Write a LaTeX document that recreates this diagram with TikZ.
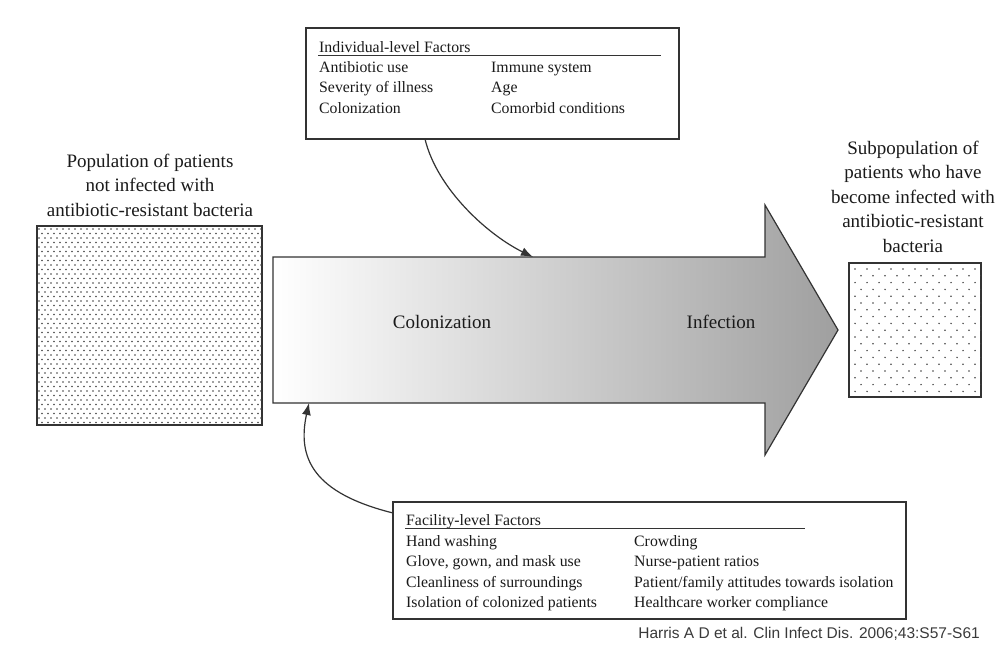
\documentclass[tikz,border=0pt]{standalone}
\usepackage{fontspec}
\setmainfont{Liberation Serif}
\newfontfamily\citefont{Liberation Sans}
\usetikzlibrary{arrows.meta}
\definecolor{linec}{HTML}{333333}
\definecolor{dotc}{HTML}{444444}
\definecolor{citec}{HTML}{3A3A3A}
\definecolor{textc}{HTML}{1A1A1A}
\begin{document}
\begin{tikzpicture}[x=1pt,y=-1pt,
  framebox/.style={draw=linec, line width=1.2pt, inner sep=0pt, outer sep=0pt, anchor=north west},
  boxtext/.style={anchor=base west, inner sep=0pt, text=textc, font=\fontsize{15.8}{19}\selectfont},
  labeltext/.style={align=center, inner sep=0pt, text=textc, font=\fontsize{19}{24.5}\selectfont},
  conn/.style={draw=linec, line width=1.2pt, -{Latex[length=12pt,width=9pt]}},
  ulinec/.style={draw=linec, line width=0.9pt}
]
\fill[white] (0,0) rectangle (1005,653);
\useasboundingbox (0,0) rectangle (1005,653);

% big arrow
\shadedraw[left color=white, right color=gray!75, draw=linec, line width=1.2pt]
  (273,257) -- (765,257) -- (765,205) -- (838,330) -- (765,455) -- (765,403) -- (273,403) -- cycle;
\coordinate (arrowtop) at (533,257);
\coordinate (arrowbot) at (309,403);
\node[labeltext] (colon) at (442,322) {Colonization};
\node[labeltext] (infect) at (721,322) {Infection};

% left population box
\node[framebox, line width=1.6pt, minimum width=225pt, minimum height=199pt] (pop) at (37,226) {};
\begin{scope}
  \clip (pop.south west) rectangle (pop.north east);
  \foreach \j in {0,...,44}{
    \pgfmathsetmacro\off{mod(\j,2)*3}
    \foreach \i in {0,...,37}{
      \fill[dotc] (39+\off+6*\i, 229+4.5*\j) circle (0.85pt);
    }
  }
\end{scope}
\node[labeltext] (poplabel) at (150,185) {Population of patients\\not infected with\\antibiotic-resistant bacteria};

% right subpopulation box
\node[framebox, line width=1.6pt, minimum width=132pt, minimum height=134pt] (sub) at (849,263) {};
\begin{scope}
  \clip (sub.south west) rectangle (sub.north east);
  \foreach \j in {0,...,19}{
    \pgfmathsetmacro\off{mod(\j,2)*6}
    \foreach \i in {0,...,11}{
      \fill[dotc] (855+\off+12*\i, 269+6.8*\j) circle (0.85pt);
    }
  }
\end{scope}
\node[labeltext] (sublabel) at (913,196.5) {Subpopulation of\\patients who have\\become infected with\\antibiotic-resistant\\bacteria};

% individual-level factors
\node[framebox, minimum width=373pt, minimum height=111pt] (indiv) at (306,28) {};
\node[boxtext] (ih) at (319,52) {Individual-level Factors};
\draw[ulinec] (318,55.5) -- (661,55.5);
\node[boxtext] (i1) at (319,72) {Antibiotic use};
\node[boxtext] (i2) at (319,92.5) {Severity of illness};
\node[boxtext] (i3) at (319,113) {Colonization};
\node[boxtext] (i4) at (491,72) {Immune system};
\node[boxtext] (i5) at (491,92.5) {Age};
\node[boxtext] (i6) at (491,113) {Comorbid conditions};

% facility-level factors
\node[framebox, minimum width=513pt, minimum height=117pt] (fac) at (393,502) {};
\node[boxtext] (fh) at (406,525) {Facility-level Factors};
\draw[ulinec] (405,528.5) -- (805,528.5);
\node[boxtext] (f1) at (406,546) {Hand washing};
\node[boxtext] (f2) at (406,566.5) {Glove, gown, and mask use};
\node[boxtext] (f3) at (406,587) {Cleanliness of surroundings};
\node[boxtext] (f4) at (406,607.5) {Isolation of colonized patients};
\node[boxtext] (f5) at (634,546) {Crowding};
\node[boxtext] (f6) at (634,566.5) {Nurse-patient ratios};
\node[boxtext] (f7) at (634,587) {Patient/family attitudes towards isolation};
\node[boxtext] (f8) at (634,607.5) {Healthcare worker compliance};

% connectors
\draw[conn] ([xshift=119pt]indiv.south west) .. controls +(12,50) and +(-45,-22) .. (arrowtop);
\draw[conn] ([yshift=-11pt]fac.north west) .. controls +(-80,-20) and +(-12,55) .. (arrowbot);

% citation
\node[anchor=base east, inner sep=0pt, text=citec, font=\citefont\fontsize{15.5}{18}\selectfont] (cite) at (980,638) {Harris A D et al. Clin Infect Dis. 2006;43:S57-S61};
\end{tikzpicture}
\end{document}
